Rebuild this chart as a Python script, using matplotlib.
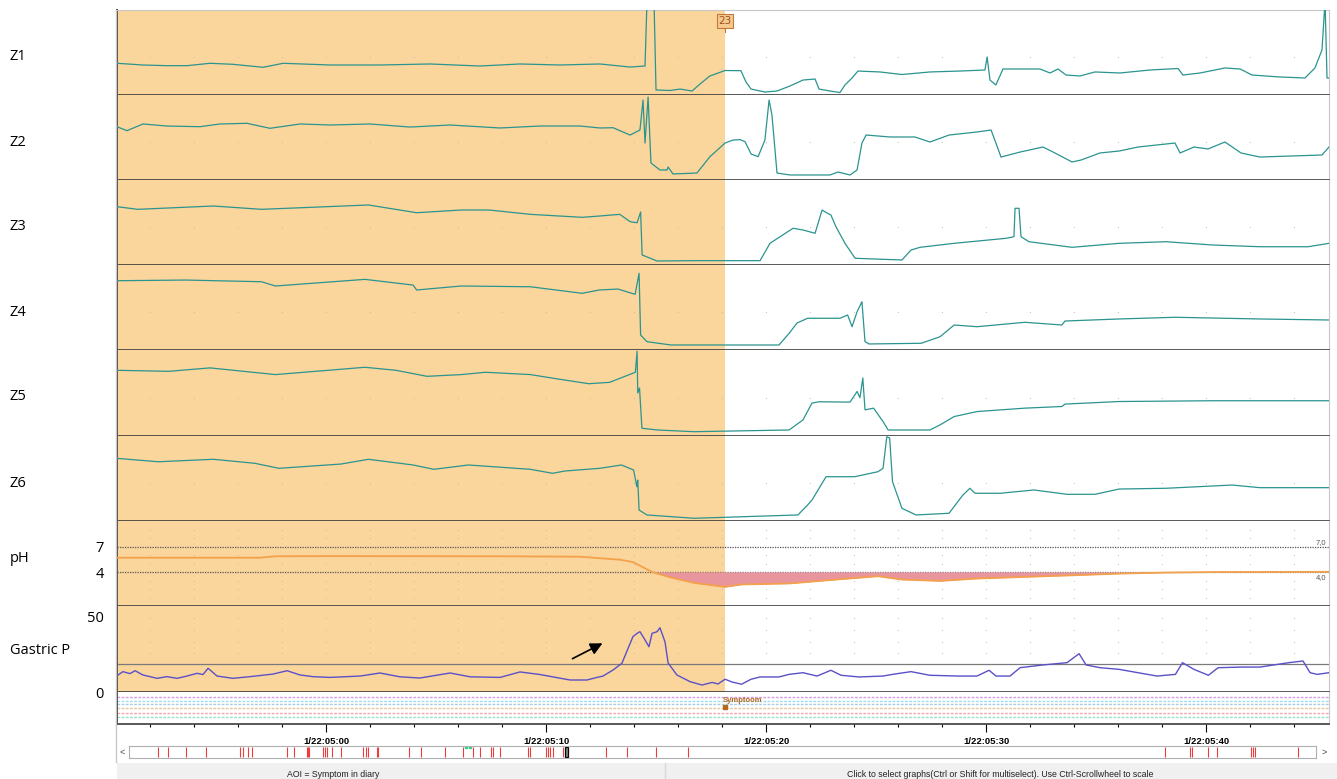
import numpy as np
import matplotlib.pyplot as plt
import matplotlib.transforms as mtransforms
from matplotlib.lines import Line2D
from matplotlib.patches import Rectangle

plt.rcParams['font.family'] = ['Open Sans', 'DejaVu Sans']

# time in seconds after 1/22:05:00
symptom_t = 18.14

t_z1 = [-9.5, -8.32, -7.23, -6.32, -5.27, -4.23, -2.86, -1.95, 0.18, 2.45, 4.73, 7.0, 8.82, 10.64, 12.45,
        13.82, 14.5, 14.59, 14.91, 15.0, 15.64, 16.09, 16.64, 17.0, 17.45, 18.14, 18.86, 19.09, 19.32, 19.95,
        20.5, 21.09, 21.68, 22.23, 22.41, 22.91, 23.36, 23.59, 23.91, 24.18, 25.18, 26.18, 27.45, 28.82, 29.95,
        30.05, 30.18, 30.45, 30.77, 32.45, 32.91, 33.27, 33.64, 34.27, 34.95, 36.09, 37.45, 38.73, 38.95, 39.73,
        40.86, 41.55, 42.09, 43.36, 44.5, 44.95, 45.27, 45.41, 45.5, 45.59]
z1 = [37.3, 35.3, 34.5, 34.5, 37.3, 36.1, 32.6, 37.3, 35.3, 35.3, 36.5, 34.1, 36.5, 35.3, 36.5,
      32.9, 34.1, 110, 110, 5.9, 5.3, 7.0, 4.7, 12.9, 22.4, 28.8, 28.6, 15.3, 7.0, 3.5,
      4.7, 10.6, 17.6, 18.8, 7.0, 4.7, 2.9, 11.8, 20.0, 28.2, 27.1, 24.1, 27.1, 28.2, 29.4,
      44.7, 17.6, 11.8, 30.6, 30.6, 25.9, 30.6, 23.5, 22.4, 27.1, 25.9, 29.4, 31.2, 23.5, 25.9,
      31.8, 30.6, 23.5, 21.2, 20.0, 31.8, 52.9, 110, 20.0, 20.0]

t_z2 = [-9.5, -9.05, -8.32, -7.23, -5.73, -4.82, -3.59, -2.55, -1.18, 0.18, 2.0, 3.82, 5.64, 7.91, 9.73,
        11.55, 12.45, 13.05, 13.82, 14.27, 14.41, 14.5, 14.64, 14.77, 15.18, 15.5, 15.55, 15.77, 16.86, 17.45,
        18.14, 18.5, 18.82, 19.05, 19.32, 19.64, 19.95, 20.14, 20.27, 20.5, 21.09, 22.91, 23.27, 23.82, 24.14,
        24.36, 24.55, 25.64, 26.77, 27.45, 28.32, 29.59, 30.23, 30.45, 30.68, 31.55, 32.59, 33.05, 33.91, 34.32,
        35.18, 36.05, 36.91, 38.59, 38.82, 39.45, 40.09, 40.86, 41.59, 42.45, 43.82, 45.27, 45.59]
z2 = [62.7, 58.0, 65.9, 63.5, 62.7, 65.9, 66.7, 60.8, 65.9, 64.7, 65.9, 62.3, 64.7, 61.2, 63.5,
      63.5, 61.2, 61.5, 52.9, 58.8, 94.1, 43.5, 97.6, 20.0, 11.8, 11.8, 15.3, 7.1, 8.2, 27.4,
      43.5, 47.0, 47.5, 45.0, 30.6, 27.4, 47.0, 94.1, 76.5, 8.2, 5.9, 5.9, 9.4, 5.9, 11.8,
      43.5, 52.9, 50.6, 50.6, 44.7, 52.9, 56.5, 58.8, 43.5, 27.0, 32.9, 38.8, 32.9, 21.2, 23.5,
      31.8, 34.1, 38.8, 43.5, 31.8, 38.8, 36.5, 44.7, 31.8, 27.0, 28.2, 29.4, 38.8]

t_z3 = [-9.5, -8.56, -5.12, -2.93, 1.93, 4.12, 6.15, 7.41, 9.29, 11.64, 12.42, 13.35, 13.83, 14.14, 14.3,
        14.37, 15.05, 16.73, 19.73, 20.18, 20.64, 21.23, 21.68, 22.23, 22.55, 22.77, 22.95, 23.18, 23.59, 24.05,
        26.18, 26.59, 27.0, 28.55, 30.91, 31.27, 31.32, 31.5, 31.59, 31.95, 33.91, 36.05, 38.18, 40.32, 42.45,
        44.64, 45.59]
z3 = [68.6, 65.5, 69.4, 65.5, 70.6, 61.5, 64.7, 64.7, 59.6, 56.1, 57.6, 59.6, 50.9, 49.7, 62.3,
      11.8, 4.7, 5.1, 5.1, 25.5, 33.3, 43.2, 41.2, 37.3, 64.7, 61.2, 58.8, 45.0, 25.5, 7.9,
      5.9, 17.6, 20.8, 25.5, 31.4, 33.3, 66.7, 66.7, 33.3, 27.4, 20.8, 25.5, 27.4, 23.5, 21.5,
      21.5, 25.5]

t_z4 = [-9.5, -6.37, -2.93, -2.3, 1.77, 3.96, 4.12, 6.15, 9.29, 11.64, 12.42, 13.27, 14.05, 14.23, 14.3,
        14.59, 15.68, 20.59, 21.05, 21.41, 21.89, 23.36, 23.71, 23.91, 24.14, 24.36, 24.5, 24.68, 27.05, 27.91,
        28.55, 29.59, 31.77, 33.45, 33.59, 36.05, 38.59, 42.45, 45.59]
z4 = [81.5, 82.3, 80.3, 75.3, 83.1, 76.4, 70.6, 75.3, 74.4, 66.7, 70.6, 71.7, 65.5, 90.2, 17.6,
      9.8, 5.9, 5.9, 19.6, 31.8, 37.3, 37.3, 41.2, 27.4, 45.0, 56.8, 9.8, 7.1, 7.9, 15.6,
      29.4, 27.4, 32.6, 29.4, 34.1, 36.5, 38.5, 36.5, 35.3]

t_z5 = [-9.5, -7.15, -5.27, -2.3, 1.77, 3.18, 4.59, 6.15, 7.25, 9.29, 10.54, 11.95, 12.89, 14.06, 14.14,
        14.17, 14.25, 14.36, 15.05, 16.73, 21.05, 21.68, 22.09, 22.41, 23.82, 24.14, 24.27, 24.4, 24.5, 24.89,
        25.32, 25.55, 27.45, 27.91, 28.55, 29.59, 31.77, 33.45, 33.59, 36.05, 40.32, 45.59]
z5 = [76.4, 75.2, 79.2, 71.4, 79.9, 76.4, 69.4, 71.4, 74.1, 71.4, 66.3, 60.8, 62.4, 74.1, 98.6,
      50.0, 55.8, 9.0, 7.0, 5.0, 7.0, 18.7, 38.3, 39.8, 39.4, 51.8, 44.5, 67.5, 30.4, 32.4,
      16.7, 7.0, 7.0, 12.9, 22.6, 28.4, 32.4, 34.3, 37.1, 40.1, 41.0, 41.0]

t_z6 = [-9.5, -7.62, -5.12, -3.24, -2.14, 0.68, 1.93, 3.96, 4.9, 6.47, 9.29, 10.3, 10.85, 12.45, 13.43,
        13.98, 14.13, 14.17, 14.23, 14.59, 16.73, 21.45, 21.89, 22.09, 22.73, 24.03, 25.09, 25.32, 25.49, 25.62,
        25.75, 26.18, 26.82, 28.32, 28.95, 29.27, 29.5, 30.64, 32.18, 33.68, 34.95, 36.05, 38.18, 41.18, 42.45,
        45.59]
z6 = [73.7, 69.7, 72.6, 67.9, 62.0, 67.0, 72.6, 65.9, 60.8, 65.9, 60.8, 56.1, 58.8, 62.0, 65.9,
      60.0, 40.3, 48.2, 12.9, 7.1, 3.2, 7.1, 18.8, 24.7, 52.1, 52.1, 58.0, 62.0, 99.1, 97.6,
      46.2, 14.9, 7.1, 9.1, 30.6, 38.5, 32.6, 32.6, 36.5, 31.4, 31.4, 37.6, 38.5, 42.3, 39.2,
      39.2]

t_ph = [-9.5, -5.73, -3.0, -2.32, 0.18, 7.91, 11.55, 12.45, 13.36, 13.95, 14.82, 15.68, 16.73, 18.14, 18.89,
        21.05, 23.18, 25.09, 26.18, 27.91, 29.59, 33.91, 36.05, 38.18, 40.55, 45.59]
ph = [5.68, 5.68, 5.68, 5.85, 5.87, 5.85, 5.8, 5.62, 5.45, 5.17, 4.0, 3.35, 2.72, 2.25, 2.53,
      2.65, 3.11, 3.5, 3.11, 2.95, 3.23, 3.61, 3.81, 3.93, 4.0, 4.02]

t_gp = [-9.45, -9.23, -8.91, -8.68, -8.32, -7.68, -7.23, -6.77, -6.32, -5.86, -5.59, -5.36, -4.95, -4.23, -3.45,
        -2.41, -1.77, -1.18, -0.59, 0.18, 1.55, 2.45, 3.36, 4.27, 5.64, 6.55, 7.91, 8.82, 9.73, 10.18,
        11.09, 11.86, 12.32, 12.59, 13.05, 13.45, 13.95, 14.14, 14.27, 14.45, 14.68, 14.82, 15.05, 15.18, 15.41,
        15.55, 15.95, 16.55, 17.09, 17.55, 17.82, 18.14, 18.45, 18.89, 19.32, 19.73, 20.59, 21.05, 21.68, 22.32,
        22.95, 23.41, 24.23, 25.32, 25.75, 26.59, 27.45, 28.75, 29.59, 30.14, 30.45, 31.09, 31.55, 32.59, 33.68,
        34.23, 34.55, 35.18, 36.05, 36.91, 37.77, 38.61, 38.93, 39.45, 40.11, 40.55, 41.61, 42.45, 43.76, 44.41,
        44.73, 45.05, 45.59]
gastric_p = [11.2, 13.4, 12.1, 14.0, 11.2, 9.0, 10.1, 9.0, 10.5, 12.3, 11.5, 15.6, 10.5, 9.0, 10.1,
             11.8, 14.0, 11.2, 10.1, 9.6, 10.5, 12.5, 10.0, 9.2, 12.5, 10.0, 9.6, 13.2, 11.5, 10.3,
             7.9, 7.9, 9.6, 10.5, 14.5, 18.9, 36.4, 38.6, 39.7, 35.5, 29.8, 38.6, 39.7, 42.3, 32.9,
             19.1, 11.2, 6.8, 4.6, 6.3, 5.3, 8.4, 6.6, 5.1, 8.4, 9.9, 9.9, 11.6, 12.7, 10.5,
             14.3, 11.0, 9.9, 10.5, 11.6, 13.4, 11.0, 10.5, 10.5, 14.3, 10.5, 10.5, 16.0, 17.8, 19.3,
             25.2, 17.8, 16.0, 14.9, 12.7, 10.5, 11.6, 19.3, 14.9, 11.0, 16.0, 16.4, 16.4, 19.3, 20.4,
             12.7, 11.6, 12.7]

# event marks in the overview bar (fraction of the recording)
event_marks = [0.0247, 0.0331, 0.048, 0.0649, 0.0935, 0.0958, 0.1005, 0.1036, 0.1329, 0.1393, 0.1497, 0.1511,
               0.1519, 0.1637, 0.1651, 0.1666, 0.1713, 0.1783, 0.1974, 0.1997, 0.2016, 0.2092, 0.21, 0.2361,
               0.2457, 0.2662, 0.2816, 0.2896, 0.2957, 0.3047, 0.3064, 0.3126, 0.3359, 0.3378, 0.3513, 0.3527,
               0.3547, 0.357, 0.3654, 0.4019, 0.4198, 0.444, 0.4712, 0.8725, 0.8942, 0.8955, 0.909, 0.9166,
               0.9452, 0.9467, 0.9484, 0.9851]
view_pos = 0.3687
time_ticks = [0, 10, 20, 30, 40]
time_labels = ['1/22:05:00', '1/22:05:10', '1/22:05:20', '1/22:05:30', '1/22:05:40']
channel_names = ['Z1', 'Z2', 'Z3', 'Z4', 'Z5', 'Z6']

W, H = 1337, 779
T0, T1 = -9.5, 45.59
SHADE = '#fad59c'
TEAL = '#2a948f'
DARK = '#3c3c3c'
DOT = '#b4b4b4'

fig = plt.figure(figsize=(W / 100, H / 100), dpi=100)


def box(x0, y0, x1, y1):
    return [x0 / W, 1 - y1 / H, (x1 - x0) / W, (y1 - y0) / H]


def panel(y0, y1, shade=True):
    ax = fig.add_axes(box(117, y0, 1329, y1))
    ax.set_xlim(T0, T1)
    ax.set_xticks([])
    ax.set_yticks([])
    for s in ax.spines.values():
        s.set_visible(False)
    ax.spines['left'].set_visible(True)
    ax.spines['left'].set_color(DARK)
    ax.spines['left'].set_linewidth(1.4)
    ax.spines['bottom'].set_visible(True)
    ax.spines['bottom'].set_color(DARK)
    ax.spines['bottom'].set_linewidth(1.2)
    ax.spines['right'].set_visible(True)
    ax.spines['right'].set_color('#c8c8c8')
    if shade:
        ax.axvspan(T0, symptom_t, color=SHADE, lw=0, zorder=0)
    return ax


def dots(ax, yvals, axes_frac=True):
    tr = mtransforms.blended_transform_factory(ax.transData, ax.transAxes) if axes_frac else ax.transData
    for yv in yvals:
        ax.plot(grid_t, np.full(len(grid_t), yv), ls='none', marker='s', ms=0.55, mew=0,
                color=DOT, transform=tr, zorder=1)


grid_t = np.arange(-8, 46, 2)
bounds = [10, 95, 180, 265, 350, 436, 521]
z_data = [(t_z1, z1), (t_z2, z2), (t_z3, z3), (t_z4, z4), (t_z5, z5), (t_z6, z6)]

for i, (tt, zz) in enumerate(z_data):
    ax = panel(bounds[i], bounds[i + 1])
    ax.set_ylim(0, 100)
    dots(ax, [0.447])
    ax.plot(tt, zz, color=TEAL, lw=0.9, zorder=3)
    if i == 0:
        tr = mtransforms.blended_transform_factory(ax.transData, ax.transAxes)
        ax.spines['top'].set_visible(True)
        ax.spines['top'].set_color('#c8c8c8')
        ax.plot([symptom_t, symptom_t], [0.74, 0.80], transform=tr, color='#c07a3a', lw=0.8)
        ax.text(symptom_t, 0.87, '23', transform=tr, ha='center', va='center', fontsize=7.5,
                family='Liberation Sans Narrow', color='#9a5220',
                bbox=dict(boxstyle='square,pad=0.15', fc='#f6c98e', ec='#c07a3a', lw=0.8))
    y_mid = bounds[i] + 47
    fig.text(10 / W, 1 - y_mid / H, channel_names[i], fontsize=10.5, va='center', ha='left')

# pH panel
ax_ph = panel(521, 606)
ax_ph.set_ylim(0, 10)
dots(ax_ph, [1, 2, 3, 5, 6, 8, 9], axes_frac=False)
for lv in (7, 4):
    ax_ph.axhline(lv, color='#555555', lw=0.9, ls=(0, (1, 1)), zorder=1)
ph_arr = np.array(ph)
ax_ph.fill_between(t_ph, ph_arr, 4, where=ph_arr < 4, interpolate=True, color='#e9959e', lw=0, zorder=2)
ax_ph.plot(t_ph, ph, color='#f4a14c', lw=1.3, zorder=3)
ax_ph.set_yticks([4, 7])
ax_ph.set_yticklabels(['4', '7'])
ax_ph.tick_params(axis='y', length=0, pad=9.5, labelsize=10.5)
ax_ph.text(45.45, 7.5, '7,0', fontsize=5.5, family='Liberation Sans', color='#555555', ha='right', va='center')
ax_ph.text(45.45, 3.4, '4,0', fontsize=5.5, family='Liberation Sans', color='#555555', ha='right', va='center')
fig.text(10 / W, 1 - 558 / H, 'pH', fontsize=10.5, va='center', ha='left')

# gastric pressure panel
ax_gp = panel(606, 692)
ax_gp.set_ylim(0, 56.6)
dots(ax_gp, [0.45, 0.58, 0.72, 0.86])
ax_gp.axhline(18.4, color='#7a7a7a', lw=0.9, zorder=1)
ax_gp.plot(t_gp, gastric_p, color='#5a50c8', lw=1.0, zorder=3)
ax_gp.set_yticks([0, 50])
ax_gp.set_yticklabels(['0', '50'])
ax_gp.tick_params(axis='y', length=0, pad=9.5, labelsize=10.5)
ax_gp.annotate('', xy=(12.68, 32.9), xytext=(11.09, 21.1),
               arrowprops=dict(arrowstyle='-|>', color='black', lw=1.2, mutation_scale=18))
fig.text(10 / W, 1 - 650 / H, 'Gastric P', fontsize=10.5, va='center', ha='left')

# event rows + time axis
ax_ev = panel(692, 724, shade=False)
ax_ev.set_ylim(0, 1)
row_colors = ['#d49ee0', '#9fdcee', '#a6cfe6', '#e2c6a2', '#f2a6ae', '#98e2c8']
for yf, c in zip([0.84, 0.72, 0.62, 0.5, 0.35, 0.21], row_colors):
    ax_ev.axhline(yf, color=c, lw=1.0, ls=(0, (2, 1)))
ax_ev.plot([symptom_t], [0.52], marker='s', ms=2.2, color='#b4651e', ls='none')
ax_ev.text(symptom_t - 0.1, 0.74, 'Symptoom', fontsize=5.5, fontweight='bold', family='Liberation Sans',
           color='#b4651e', ha='left', va='center')
ax_ev.set_xticks(time_ticks)
ax_ev.set_xticklabels(time_labels, fontweight='bold', family='Liberation Sans', fontsize=6.8)
ax_ev.set_xticks(grid_t, minor=True)
ax_ev.tick_params(axis='x', which='major', length=6, width=0.8, direction='out', pad=3)
ax_ev.tick_params(axis='x', which='minor', length=2.5, width=0.8, direction='out')

# overview scroll bar
ax_sb = fig.add_axes(box(129, 746, 1316, 758))
ax_sb.set_xlim(0, 1)
ax_sb.set_ylim(0, 1)
ax_sb.set_xticks([])
ax_sb.set_yticks([])
for s in ax_sb.spines.values():
    s.set_color('#b0b0b0')
    s.set_linewidth(0.8)
ax_sb.vlines(event_marks, 0.12, 0.88, color='#ee3b3b', lw=0.8)
ax_sb.plot([0.2835, 0.2875], [0.9, 0.9], ls='none', marker='s', ms=2, color='#2fd08a')
ax_sb.add_patch(Rectangle((view_pos - 0.0015, 0.05), 0.003, 0.9, fc='#8a8a8a', ec='black', lw=0.9))
fig.text(122 / W, 1 - 752 / H, '<', fontsize=6.5, family='Liberation Sans', color='#444444', ha='center', va='center')
fig.text(1324 / W, 1 - 752 / H, '>', fontsize=6.5, family='Liberation Sans', color='#444444', ha='center', va='center')

# left border and status bar
fig.add_artist(Line2D([116 / W, 116 / W], [1 - 10 / H, 1 - 762 / H], color='#c8c8c8', lw=1.0))
fig.add_artist(Rectangle((117 / W, 0), (W - 117) / W, 16 / H, transform=fig.transFigure,
                         fc='#f0f0f0', ec='none'))
fig.add_artist(Line2D([665 / W, 665 / W], [0, 16 / H], color='#d8d8d8', lw=1.0))
fig.text(333 / W, 1 - 770 / H, 'AOI = Symptom in diary', fontsize=6.3, family='Liberation Sans',
         color='#222222', ha='center', va='top')
fig.text(1000 / W, 1 - 770 / H,
         'Click to select graphs(Ctrl or Shift for multiselect). Use Ctrl-Scrollwheel to scale',
         fontsize=6.3, family='Liberation Sans', color='#222222', ha='center', va='top')

fig.savefig('out.png', dpi=100)
